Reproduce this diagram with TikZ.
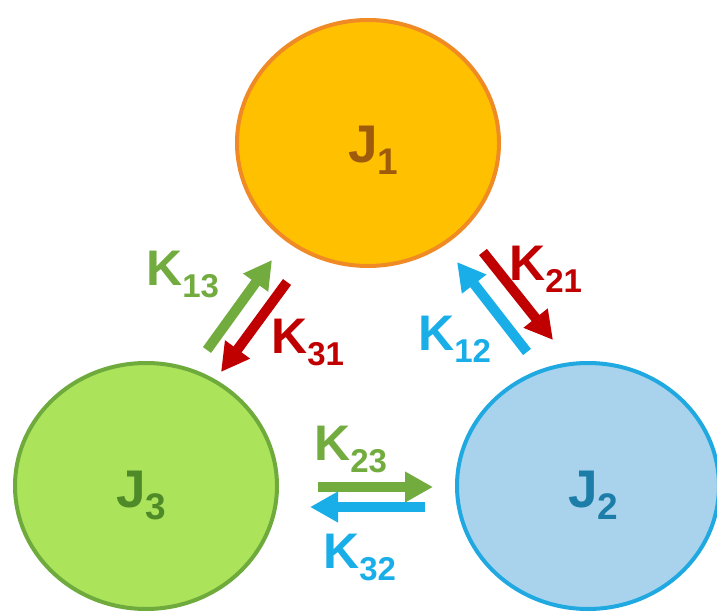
\documentclass[tikz,border=0pt]{standalone}
\usepackage{fontspec}
\setmainfont{Liberation Sans}
\usetikzlibrary{shapes.geometric,arrows.meta}
\definecolor{jonefill}{HTML}{FFC000}
\definecolor{joneline}{HTML}{F08A24}
\definecolor{jonetext}{HTML}{9E5B0B}
\definecolor{jthreefill}{HTML}{ABE35B}
\definecolor{jthreeline}{HTML}{6EAA3C}
\definecolor{jthreetext}{HTML}{4E8A28}
\definecolor{jtwofill}{HTML}{A9D3EC}
\definecolor{jtwoline}{HTML}{20A9E1}
\definecolor{jtwotext}{HTML}{1C7DA8}
\definecolor{agreen}{HTML}{72AC3F}
\definecolor{ared}{HTML}{C00000}
\definecolor{ablue}{HTML}{1AAEE8}
\newcommand\jlab[2]{\fontsize{53}{53}\selectfont\bfseries #1\raisebox{-12pt}{\fontsize{37}{37}\selectfont #2}}
\newcommand\klab[1]{\fontsize{50}{50}\selectfont\bfseries K\raisebox{-12pt}{\fontsize{33}{33}\selectfont #1}}
\tikzset{
  state/.style={ellipse, minimum width=262pt, minimum height=246pt, inner sep=0pt, line width=4pt},
  rate/.style={line width=10pt, -{Triangle[width=29pt,length=28pt]}},
  klabel/.style={anchor=base west, inner sep=0pt},
}
\begin{document}
\begin{tikzpicture}[x=1pt,y=-1pt]
\useasboundingbox (0,0) rectangle (717,612);
\node[state, fill=jonefill, draw=joneline] (J1) at (368,143) {};
\node[state, fill=jthreefill, draw=jthreeline] (J3) at (146,486) {};
\node[state, fill=jtwofill, draw=jtwoline] (J2) at (588,486) {};
\node[anchor=base west, inner sep=0pt, text=jonetext] (t1) at (348,163) {\jlab{J}{1}};
\node[anchor=base west, inner sep=0pt, text=jthreetext] (t3) at (116,507) {\jlab{J}{3}};
\node[anchor=base west, inner sep=0pt, text=jtwotext] (t2) at (568,507) {\jlab{J}{2}};
% arrow end points
\coordinate (a13s) at (207,350); \coordinate (a13e) at (272,260);
\coordinate (a31s) at (287,282); \coordinate (a31e) at (221,372);
\coordinate (a12s) at (527,352); \coordinate (a12e) at (457,262);
\coordinate (a21s) at (483,252); \coordinate (a21e) at (553,340);
\coordinate (a23s) at (318,487); \coordinate (a23e) at (433,487);
\coordinate (a32s) at (425,507); \coordinate (a32e) at (310,507);
\draw[rate, agreen] (a13s) -- (a13e);
\draw[rate, ared] (a31s) -- (a31e);
\draw[rate, ablue] (a12s) -- (a12e);
\draw[rate, ared] (a21s) -- (a21e);
\draw[rate, agreen] (a23s) -- (a23e);
\draw[rate, ablue] (a32s) -- (a32e);
% labels
\node[klabel, text=agreen] (k13) at (146,285) {\klab{13}};
\node[klabel, text=ared] (k31) at (271,353) {\klab{31}};
\node[klabel, text=ared] (k21) at (509,280) {\klab{21}};
\node[klabel, text=ablue] (k12) at (418,350) {\klab{12}};
\node[klabel, text=agreen] (k23) at (314,460) {\klab{23}};
\node[klabel, text=ablue] (k32) at (323,568) {\klab{32}};
\end{tikzpicture}
\end{document}
